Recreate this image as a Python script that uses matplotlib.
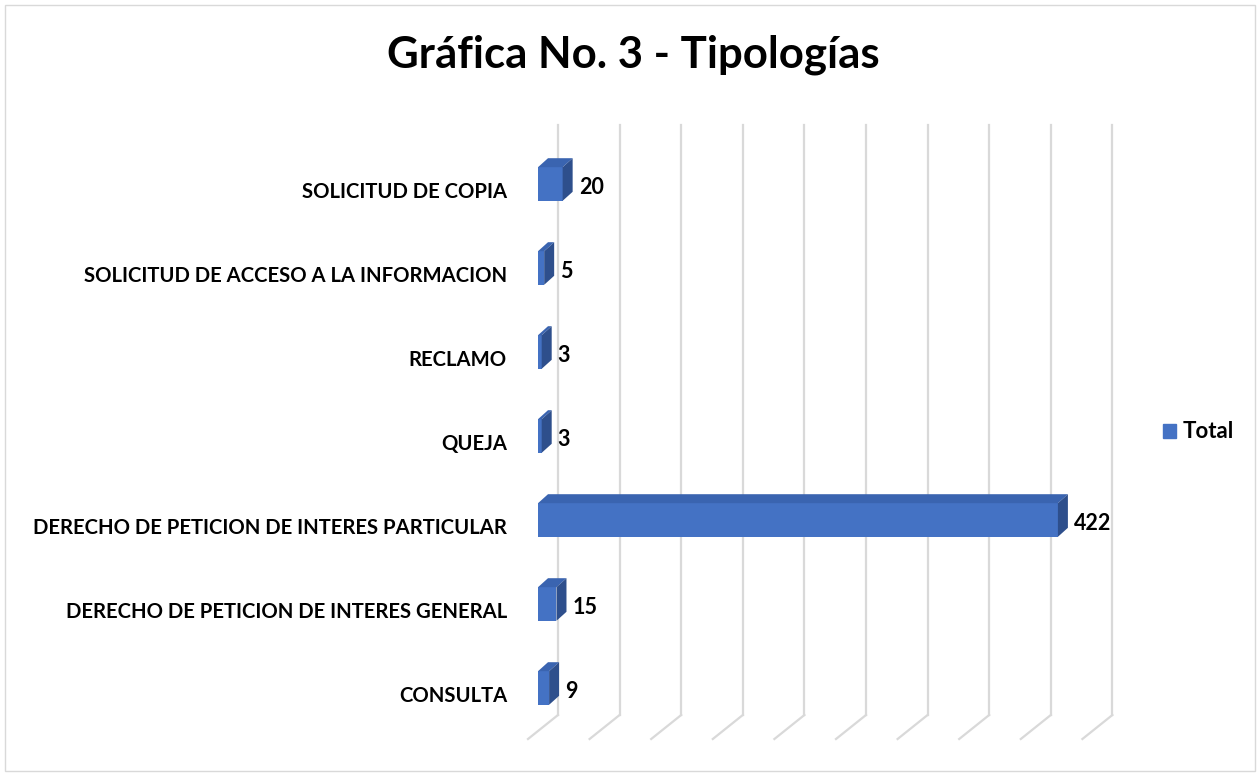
import matplotlib.pyplot as plt
from matplotlib.patches import Polygon, Rectangle, Patch
import numpy as np

categories = ["CONSULTA",
              "DERECHO DE PETICION DE INTERES GENERAL",
              "DERECHO DE PETICION DE INTERES PARTICULAR",
              "QUEJA",
              "RECLAMO",
              "SOLICITUD DE ACCESO A LA INFORMACION",
              "SOLICITUD DE COPIA"]
values = [9, 15, 422, 3, 3, 5, 20]
grid_ticks = np.arange(0, 451, 50)

W, H = 1259, 774
fig = plt.figure(figsize=(W / 100, H / 100), dpi=100)
plt.rcParams['font.family'] = ['Lato', 'DejaVu Sans']

# axes in pixel layout: x 500..1150, y 100..750
ax = fig.add_axes([500 / W, (H - 750) / H, 650 / W, 650 / H])
ax.axis('off')

kx = 1.232          # pixels per value unit
ky = 84.0           # pixels per category
ax.set_xlim(-38 / kx, 612 / kx)
ax.set_ylim((688 - 750) / ky, (688 - 100) / ky)

front = '#4472C4'
top_c = '#3A64B0'
side_c = '#2E4F8C'
grid_c = '#D9D9D9'

# depth offsets (pixels -> data)
bdx, bdy = 10 / kx, 9 / ky          # bar depth
back_dx = 20 / kx                   # back wall relative to bar front
front_dx = -10 / kx                 # floor front edge
floor_back = (688 - 715) / ky
floor_front = (688 - 739) / ky
grid_top = (688 - 125) / ky

for t in grid_ticks:
    ax.plot([t + back_dx, t + back_dx], [floor_back, grid_top], color=grid_c, lw=1.6, zorder=1)
    ax.plot([t + back_dx, t + front_dx], [floor_back, floor_front], color=grid_c, lw=1.6, zorder=1)

y = np.arange(len(categories))
h = 0.4
ax.barh(y, values, height=h, left=0, color=front, zorder=3)
for yi, v in zip(y, values):
    topf = Polygon([(0, yi + h / 2), (v, yi + h / 2), (v + bdx, yi + h / 2 + bdy), (bdx, yi + h / 2 + bdy)],
                   closed=True, facecolor=top_c, edgecolor='none', zorder=3)
    sidef = Polygon([(v, yi - h / 2), (v + bdx, yi - h / 2 + bdy), (v + bdx, yi + h / 2 + bdy), (v, yi + h / 2)],
                    closed=True, facecolor=side_c, edgecolor='none', zorder=3)
    ax.add_patch(topf)
    ax.add_patch(sidef)
    ax.text(v + bdx + 6 / kx, yi - 3 / ky, str(v), ha='left', va='center',
            fontsize=15.5, fontweight='bold', color='black', zorder=4)
    ax.text(-31 / kx, yi - 8 / ky, categories[yi], ha='right', va='center',
            fontsize=14.6, fontweight='bold', color='black', clip_on=False)

fig.text(633 / W, 1 - 55 / H, "Gráfica No. 3 - Tipologías", ha='center', va='center',
         fontsize=31.5, fontweight='bold')

fig.legend(handles=[Patch(color=front, label='Total')], loc='center left',
           bbox_to_anchor=(1143 / W, 1 - 432 / H), frameon=False,
           handlelength=0.6, handleheight=0.6, handletextpad=0.3,
           prop={'weight': 'bold', 'size': 16})

fig.patches.append(Rectangle((5 / W, 3 / H), 1250 / W, 766 / H, transform=fig.transFigure,
                             fill=False, edgecolor=grid_c, lw=1))

fig.savefig('out.png', dpi=100)
